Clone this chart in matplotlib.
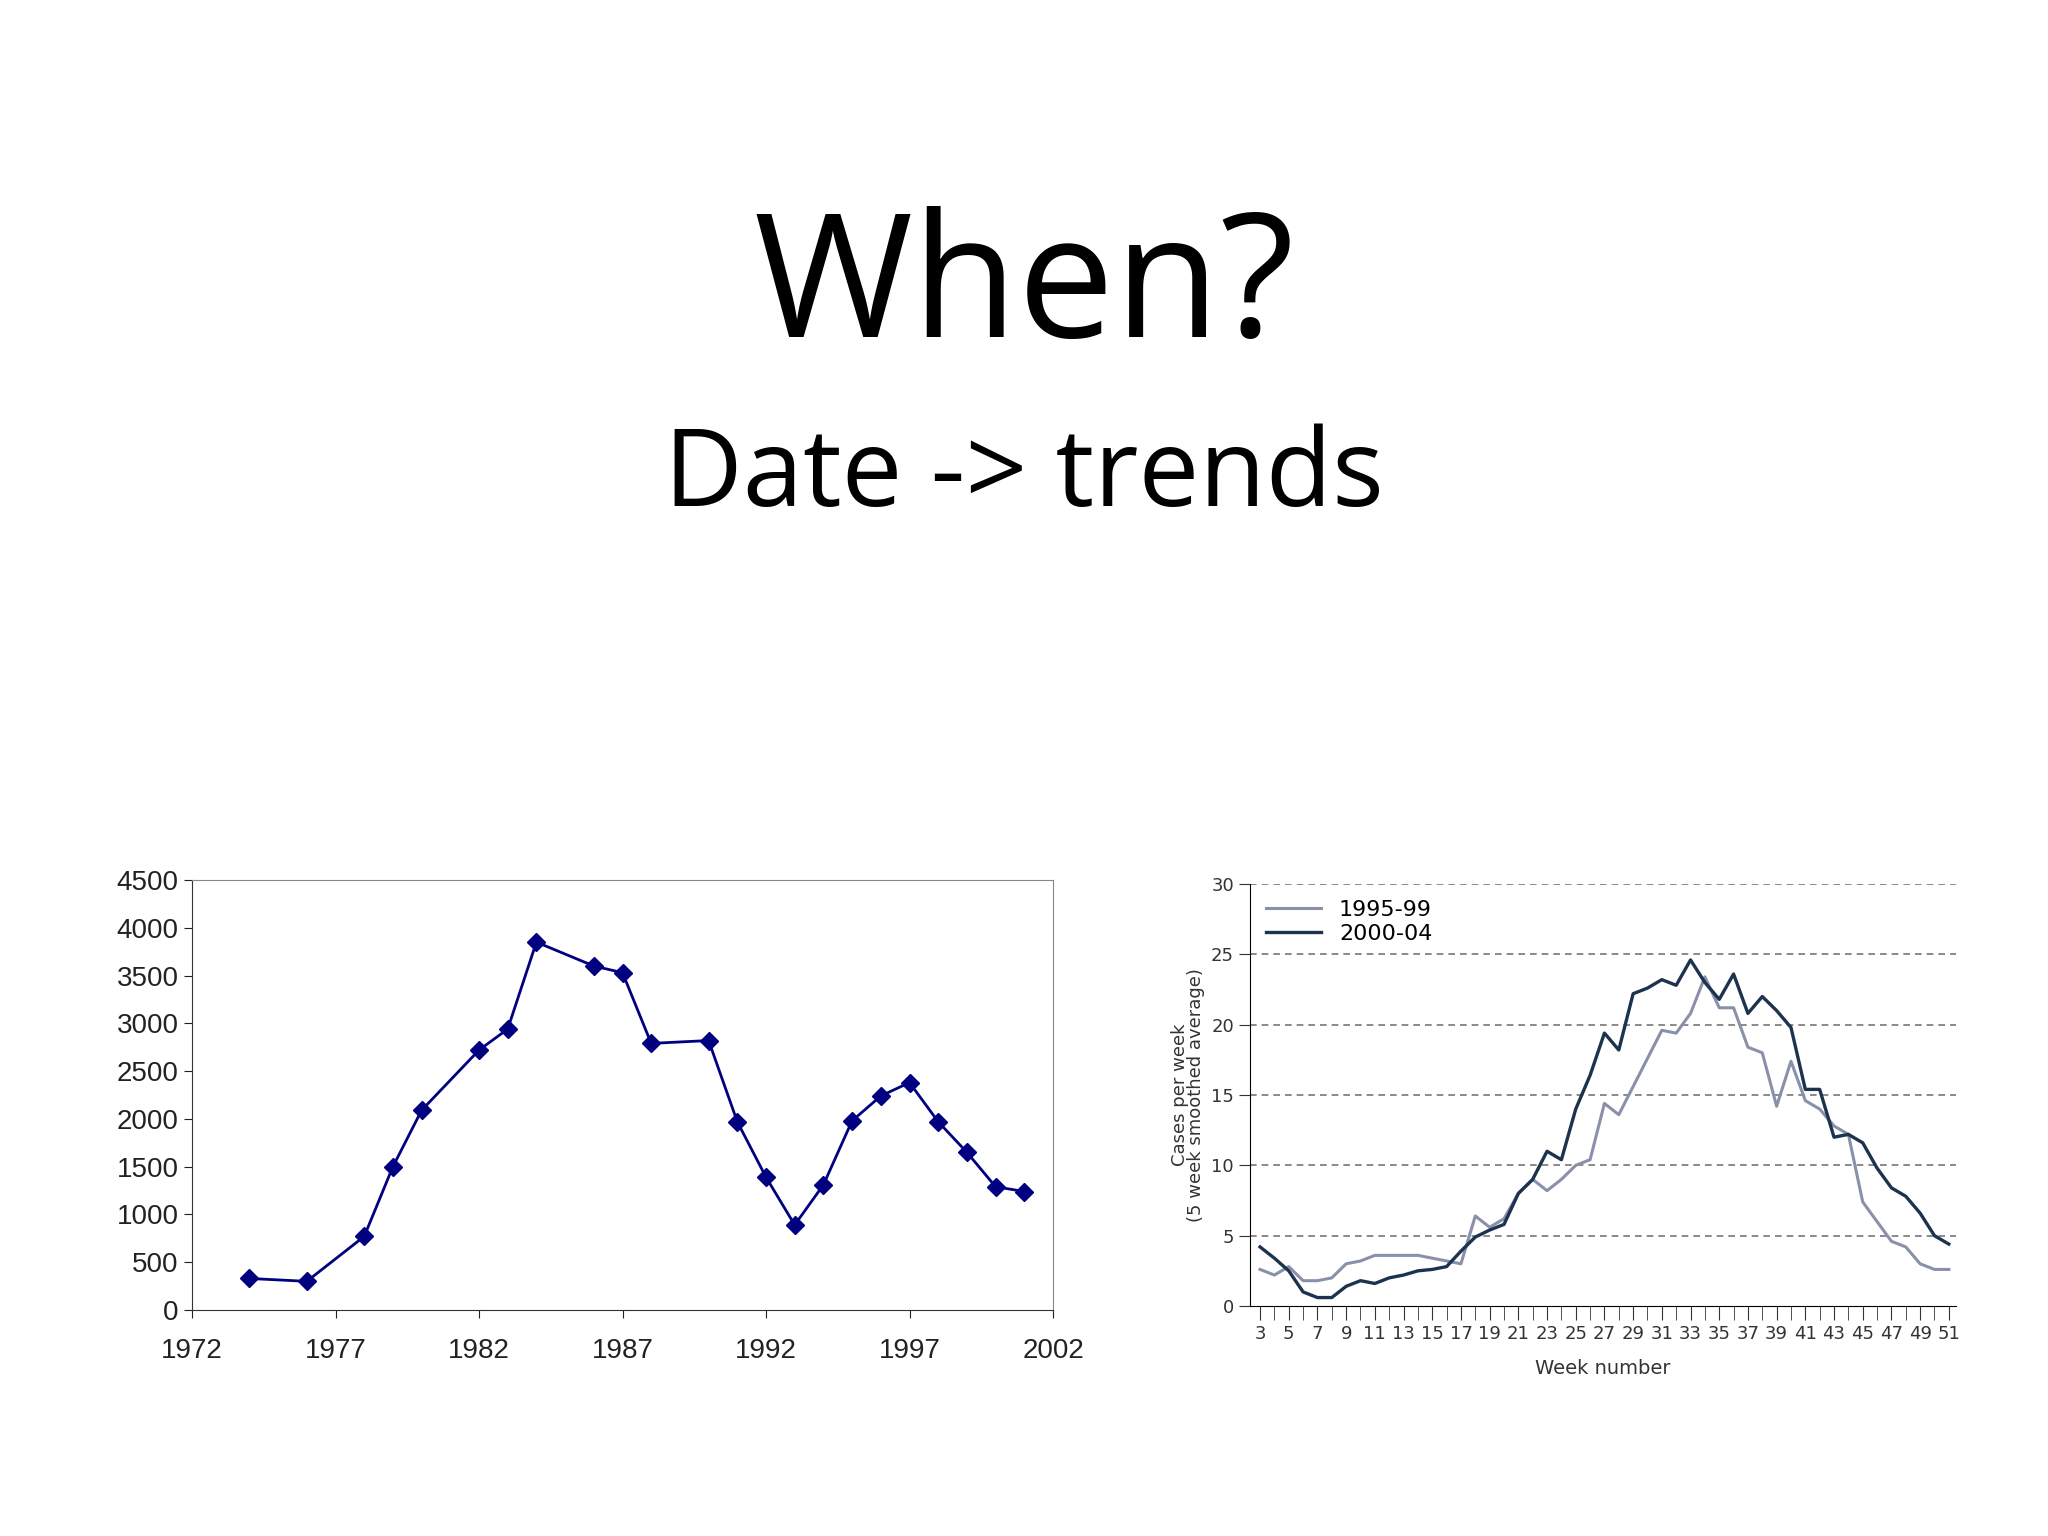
import matplotlib
matplotlib.use("Agg")
import matplotlib.pyplot as plt

years = [1974,1976,1978,1979,1980,1982,1983,1984,1986,1987,1988,1990,1991,1992,1993,1994,1995,1996,1997,1998,1999,2000,2001]
counts = [330,300,770,1500,2090,2720,2940,3850,3600,3530,2790,2820,1970,1390,890,1310,1980,2240,2380,1970,1650,1290,1240]

weeks = list(range(3, 52))
s_9599 = [2.6,2.2,2.8,1.8,1.8,2.0,3.0,3.2,3.6,3.6,3.6,3.6,3.4,3.2,3.0,6.4,5.6,6.2,8.0,9.0,8.2,9.0,10.0,10.4,
          14.4,13.6,15.6,17.6,19.6,19.4,20.8,23.4,21.2,21.2,18.4,18.0,14.2,17.4,14.6,14.0,12.8,12.2,7.4,6.0,4.6,4.2,3.0,2.6,2.6]
s_0004 = [4.2,3.4,2.5,1.0,0.6,0.6,1.4,1.8,1.6,2.0,2.2,2.5,2.6,2.8,3.9,4.9,5.4,5.8,8.0,9.0,11.0,10.4,14.0,16.4,
          19.4,18.2,22.2,22.6,23.2,22.8,24.6,23.0,21.8,23.6,20.8,22.0,21.0,19.8,15.4,15.4,12.0,12.2,11.6,9.8,8.4,7.8,6.6,5.0,4.4]

W, H = 2048, 1536
fig = plt.figure(figsize=(20.48, 15.36), dpi=100)
fig.text(0.5, 1-292/H, "When?", ha="center", va="center", fontsize=124, family="Open Sans")
fig.text(0.5, 1-478/H, "Date -> trends", ha="center", va="center", fontsize=78, family="Open Sans")

# Left chart
ax1 = fig.add_axes([192/W, 1-1310/H, (1053-192)/W, (1310-880)/H])
ax1.plot(years, counts, color="#000080", lw=2, marker="D", ms=9)
ax1.set_xlim(1972, 2002)
ax1.set_ylim(0, 4500)
ax1.set_xticks(range(1972, 2003, 5))
ax1.set_yticks(range(0, 4501, 500))
for sp in ax1.spines.values():
    sp.set_color("#888888")
ax1.spines['left'].set_color("#333333"); ax1.spines['bottom'].set_color("#333333")
ax1.tick_params(labelsize=20, direction="out", length=6, colors="#222222")
for lab in ax1.get_xticklabels() + ax1.get_yticklabels():
    lab.set_family("Liberation Sans")
ax1.tick_params(axis="x", pad=14)

# Right chart
ax2 = fig.add_axes([1250/W, 1-1306/H, (1956-1250)/W, (1306-884)/H])
ax2.plot(weeks, s_9599, color="#8a90aa", lw=2.2, label="1995-99")
ax2.plot(weeks, s_0004, color="#1c3350", lw=2.4, label="2000-04")
ax2.set_xlim(2.3, 51.5)
ax2.set_ylim(0, 30)
ax2.set_yticks(range(0, 31, 5))
ax2.set_xticks(weeks, minor=True)
ax2.set_xticks(range(3, 52, 2))
ax2.tick_params(axis="x", which="both", direction="out", length=10, labelsize=13, colors="#333333")
ax2.tick_params(axis="y", direction="out", length=8, labelsize=13, colors="#333333")
for y in range(5, 31, 5):
    ax2.axhline(y, color="#777777", lw=1.2, ls=(0, (4, 3)), zorder=0)
ax2.spines['top'].set_visible(False); ax2.spines['right'].set_visible(False)
ax2.set_xlabel("Week number", fontsize=14, color="#333333", labelpad=12)
ax2.set_ylabel("Cases per week\n(5 week smoothed average)", fontsize=13, color="#333333", linespacing=0.9)
leg = ax2.legend(loc="upper left", frameon=False, fontsize=16, handlelength=2.5, borderaxespad=0.3, labelspacing=0.2)

fig.savefig("out.png", dpi=100, facecolor="white")
